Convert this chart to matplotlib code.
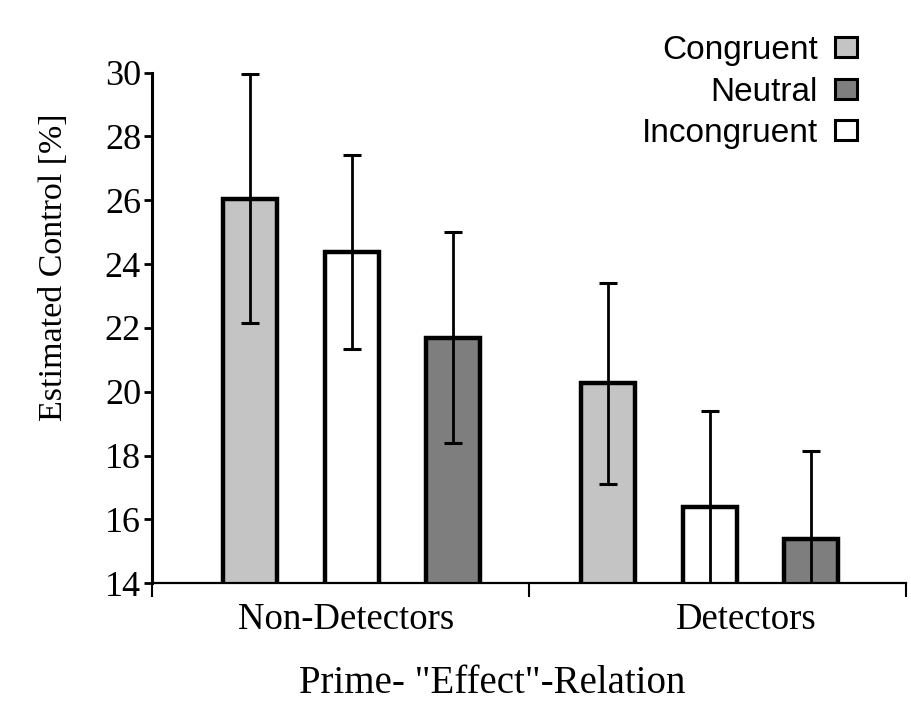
import matplotlib.pyplot as plt
import numpy as np

# values
groups = ["Non-Detectors", "Detectors"]
conditions = ["Congruent", "Incongruent", "Neutral"]
means = {
    "Congruent": [26.05, 20.27],
    "Incongruent": [24.38, 16.38],
    "Neutral": [21.69, 15.38],
}
errors = {
    "Congruent": [3.9, 3.15],
    "Incongruent": [3.05, 3.0],
    "Neutral": [3.3, 2.75],
}
legend_order = ["Congruent", "Neutral", "Incongruent"]
yticks = [14, 16, 18, 20, 22, 24, 26, 28, 30]

colors = {"Congruent": "#c4c4c4", "Incongruent": "#ffffff", "Neutral": "#7e7e7e"}

serif = ["Liberation Serif", "DejaVu Serif"]
sans = ["Liberation Sans", "DejaVu Sans"]

fig = plt.figure(figsize=(9.11, 7.12), dpi=100)
ax = fig.add_axes([0.167, 0.181, 0.827, 0.717])

centers = np.array([0.531, 1.482])
offsets = [-0.272, 0.0, 0.268]
width = 0.143

handles = {}
for cond, off in zip(conditions, offsets):
    x = centers + off
    b = ax.bar(x, means[cond], width=width, bottom=0, color=colors[cond],
               edgecolor="black", linewidth=3.2, zorder=2, label=cond)
    handles[cond] = b
    ax.errorbar(x, means[cond], yerr=errors[cond], fmt="none", ecolor="black",
                elinewidth=2.0, capsize=6.5, capthick=2.2, zorder=3)

ax.set_ylim(14, 30)
ax.set_xlim(0, 2)
ax.set_yticks(yticks)
ax.set_yticklabels([str(t) for t in yticks], family=serif, fontsize=26)

ax.set_xticks([0, 1, 2])
ax.set_xticklabels(["", "", ""])
ax.set_xticks([0.514, 1.577], minor=True)
ax.set_xticklabels(groups, minor=True, family=serif, fontsize=26.5)
ax.tick_params(axis="x", which="minor", length=0, pad=14)
ax.tick_params(axis="x", which="major", length=10, width=1.5, direction="out")
ax.tick_params(axis="y", length=6, width=2, direction="out", pad=2)

for s in ["top", "right"]:
    ax.spines[s].set_visible(False)
ax.spines["left"].set_linewidth(2.2)
ax.spines["bottom"].set_linewidth(1.6)

ax.set_ylabel("Estimated Control [%]", family=serif, fontsize=24.5)
ax.yaxis.set_label_coords(-0.11, 0.618)
ax.set_xlabel('Prime- "Effect"-Relation', family=serif, fontsize=28)
ax.xaxis.set_label_coords(0.452, -0.16)

leg = fig.legend([handles[c] for c in legend_order], legend_order,
                 loc="upper right", bbox_to_anchor=(0.941, 0.951),
                 frameon=False, markerfirst=False, prop={"family": sans, "size": 24},
                 handlelength=0.68, handleheight=0.55, handletextpad=0.5,
                 labelspacing=0.32, borderpad=0, borderaxespad=0)
for t in leg.get_texts():
    t.set_ha("right")
for p in leg.get_patches():
    p.set_linewidth(2.2)

fig.savefig("out.png", dpi=100)
